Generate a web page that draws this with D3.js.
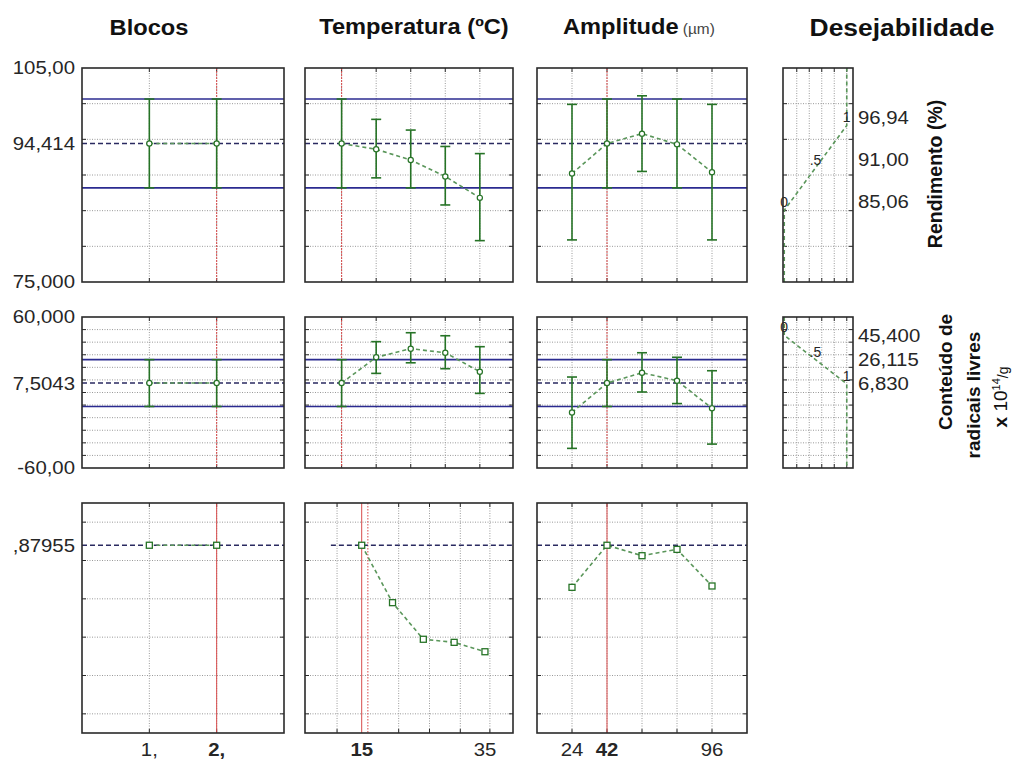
<!DOCTYPE html>
<html><head><meta charset="utf-8">
<script src="https://cdn.jsdelivr.net/npm/d3@7"></script>
<style>body{margin:0;background:#fff}svg{display:block}</style>
</head><body>
<script>
// ---------------- DATA ----------------
const blocos = [1, 2];
const temperatura = [15, 20, 25, 30, 35];
const amplitude = [24, 42, 60, 78, 96];

const rendBlocos   = [94.414, 94.414];
const rendBlocosLo = [88.2, 88.2];
const rendBlocosHi = [100.65, 100.65];
const rendTemp   = [94.414, 93.6, 92.1, 89.8, 86.8];
const rendTempLo = [88.2, 89.6, 88.2, 85.8, 80.8];
const rendTempHi = [100.65, 97.8, 96.3, 94.0, 93.0];
const rendAmp   = [90.2, 94.414, 95.8, 94.3, 90.4];
const rendAmpLo = [80.9, 88.2, 90.5, 88.2, 80.9];
const rendAmpHi = [99.9, 100.65, 101.1, 100.65, 99.9];

const radBlocos   = [7.5043, 7.5043];
const radBlocosLo = [-11.1, -11.1];
const radBlocosHi = [26.1, 26.1];
const radTemp   = [7.5043, 28.0, 34.8, 31.6, 16.5];
const radTempLo = [-11.1, 15.2, 23.6, 18.9, -0.7];
const radTempHi = [26.1, 40.4, 47.5, 45.1, 36.4];
const radAmp   = [-15.8, 7.5043, 15.7, 9.4, -12.6];
const radAmpLo = [-44.4, -11.1, 0.4, -8.8, -41.0];
const radAmpHi = [12.3, 26.1, 31.6, 28.0, 17.3];

const desBlocos = [0.87955, 0.87955];
const desTemp   = [0.87955, 0.580, 0.389, 0.373, 0.324];
const desAmp    = [0.660, 0.87955, 0.825, 0.858, 0.667];

const currentLevels = [2, 15, 42];
const currentRend = 94.414, currentRendLo = 88.2, currentRendHi = 100.65;
const currentRad = 7.5043, currentRadLo = -11.1, currentRadHi = 26.1;
const currentDes = 0.87955;

const rendDomain = [75, 105];
const radDomain = [-60, 60];
const desDomain = [-0.1, 1.1];
const rendGrid = [80, 85, 90, 95, 100];
const radGrid = [-50, -40, -30, -20, -10, 0, 10, 20, 30, 40, 50];
const desGrid = [0, 0.2, 0.4, 0.6, 0.8, 1.0];

const rendTickValues = [105, 94.414, 75];
const rendTickLabels = ["105,00", "94,414", "75,000"];
const radTickValues = [60, 7.5043, -60];
const radTickLabels = ["60,000", "7,5043", "-60,00"];
const desTickValues = [0.87955];
const desTickLabels = [",87955"];

const blocosDomain = [0, 3];
const tempDomain = [9.7, 39.8];
const tempDomainBottom = [5.8, 39.55];
const ampDomain = [6, 114];
const tempGridBottom = [11, 21, 26, 31, 35.8];
const tempOptBottom = 16;
const tempDashStartBottom = 10;

const blocosLabelValues = [1, 2];
const blocosLabels = ["1,", "2,"];
const tempLabelValues = [15, 35];
const tempLabels = ["15", "35"];
const ampLabelValues = [24, 42, 96];
const ampLabels = ["24", "42", "96"];

const desFnD = [0, 0.5, 1];
const desFnText = ["0", ".5", "1"];
const rendDesLevels = [85.06, 91.00, 96.94];
const rendDesLabels = ["85,06", "91,00", "96,94"];
const radDesLevels = [45.400, 26.115, 6.830];
const radDesLabels = ["45,400", "26,115", "6,830"];
const desXDomain = [-0.02, 1.1];
const desXGrid = [0.2, 0.4, 0.6, 0.8, 1.0];

const colTitles = ["Blocos", "Temperatura (ºC)", "Amplitude", "Desejabilidade"];

// ---------------- LAYOUT ----------------
const W = 1013, H = 761, SX = 1.1;
const colX = [[82, 284], [305, 513], [537, 747]];
const rowY = [[68, 282], [317, 468], [503, 733]];
const desX = [783, 853];

const FONT = "'Liberation Sans', Arial, Helvetica, sans-serif";
const C = {grid: "#9a9a9a", border: "#2a2a2a", blue: "#2b2b90", mean: "#2a2a60",
           red: "#d84a4a", green: "#267326", gline: "#5a965a", text: "#262626"};

const svg = d3.select("body").append("svg").attr("width", W).attr("height", H)
  .style("font-family", FONT);

function label(x, y, str, o = {}) {
  const g = svg.append("g").attr("transform", `translate(${x},${y}) scale(${o.sx || SX},1)`);
  const t = g.append("text").attr("font-size", o.size || 18.5)
    .attr("font-weight", o.weight || "normal")
    .attr("text-anchor", o.anchor || "start")
    .attr("fill", o.fill || C.text).text(str);
  if (o.dy) t.attr("dy", o.dy);
  return t;
}

const xScales = [
  d3.scaleLinear().domain(blocosDomain).range(colX[0]),
  d3.scaleLinear().domain(tempDomain).range(colX[1]),
  d3.scaleLinear().domain(ampDomain).range(colX[2])
];
const xScalesBottom = [
  xScales[0],
  d3.scaleLinear().domain(tempDomainBottom).range(colX[1]),
  xScales[2]
];
const yScales = [
  d3.scaleLinear().domain(rendDomain).range([rowY[0][1], rowY[0][0]]),
  d3.scaleLinear().domain(radDomain).range([rowY[1][1], rowY[1][0]]),
  d3.scaleLinear().domain(desDomain).range([rowY[2][1], rowY[2][0]])
];
const yGrids = [rendGrid, radGrid, desGrid];
const xVals = [blocos, temperatura, amplitude];
const xGridsTop = [blocos, temperatura, amplitude];
const xGridsBottom = [blocos, tempGridBottom, amplitude];

const means = [currentRend, currentRad, currentDes];
const bands = [[currentRendLo, currentRendHi], [currentRadLo, currentRadHi], null];
const series = [
  [[rendBlocos, rendBlocosLo, rendBlocosHi], [rendTemp, rendTempLo, rendTempHi], [rendAmp, rendAmpLo, rendAmpHi]],
  [[radBlocos, radBlocosLo, radBlocosHi], [radTemp, radTempLo, radTempHi], [radAmp, radAmpLo, radAmpHi]],
  [[desBlocos], [desTemp], [desAmp]]
];

function grid(g, xs, ys, xg, yg) {
  const [x0, x1] = xs.range(), [y1, y0] = ys.range();
  g.selectAll(null).data(yg).join("line")
    .attr("x1", x0).attr("x2", x1).attr("y1", d => ys(d)).attr("y2", d => ys(d))
    .attr("stroke", C.grid).attr("stroke-dasharray", "1,1.5");
  g.selectAll(null).data(xg).join("line")
    .attr("y1", y0).attr("y2", y1).attr("x1", d => xs(d)).attr("x2", d => xs(d))
    .attr("stroke", C.grid).attr("stroke-dasharray", "1,1.5");
  const tk = 4;
  yg.forEach(d => {
    g.append("line").attr("x1", x0).attr("x2", x0 + tk).attr("y1", ys(d)).attr("y2", ys(d)).attr("stroke", C.border);
    g.append("line").attr("x1", x1 - tk).attr("x2", x1).attr("y1", ys(d)).attr("y2", ys(d)).attr("stroke", C.border);
  });
  xg.forEach(d => {
    g.append("line").attr("y1", y0).attr("y2", y0 + tk).attr("x1", xs(d)).attr("x2", xs(d)).attr("stroke", C.border);
    g.append("line").attr("y1", y1 - tk).attr("y2", y1).attr("x1", xs(d)).attr("x2", xs(d)).attr("stroke", C.border);
  });
}
function border(g, xs, ys) {
  const [x0, x1] = xs.range(), [y1, y0] = ys.range();
  g.append("rect").attr("x", x0).attr("y", y0).attr("width", x1 - x0).attr("height", y1 - y0)
    .attr("fill", "none").attr("stroke", C.border).attr("stroke-width", 1.6);
}

for (let r = 0; r < 3; r++) {
  for (let c = 0; c < 3; c++) {
    const xs = r === 2 ? xScalesBottom[c] : xScales[c];
    const ys = yScales[r];
    const g = svg.append("g");
    const [x0, x1] = xs.range(), [yb, yt] = ys.range();
    grid(g, xs, ys, r === 2 ? xGridsBottom[c] : xGridsTop[c], yGrids[r]);
    g.append("line").attr("x1", xs(currentLevels[c])).attr("x2", xs(currentLevels[c]))
      .attr("y1", yt).attr("y2", yb).attr("stroke", C.red).attr("stroke-width", 1)
      .attr("stroke-dasharray", r === 2 ? null : "2,1");
    if (r === 2 && c === 1) {
      g.append("line").attr("x1", xs(tempOptBottom)).attr("x2", xs(tempOptBottom))
        .attr("y1", yt).attr("y2", yb).attr("stroke", C.red).attr("stroke-width", 1)
        .attr("stroke-dasharray", "1.5,1.5");
    }
    if (bands[r]) {
      bands[r].forEach(v => g.append("line").attr("x1", x0).attr("x2", x1)
        .attr("y1", ys(v)).attr("y2", ys(v)).attr("stroke", C.blue).attr("stroke-width", 1.6));
    }
    const mStart = (r === 2 && c === 1) ? xs(tempDashStartBottom) : x0;
    g.append("line").attr("x1", mStart).attr("x2", x1).attr("y1", ys(means[r])).attr("y2", ys(means[r]))
      .attr("stroke", C.mean).attr("stroke-width", 1.4).attr("stroke-dasharray", "5,3");
    const [vals, lo, hi] = series[r][c];
    const xv = xVals[c];
    const pts = xv.map((x, i) => [xs(x), ys(vals[i])]);
    g.append("path").attr("d", d3.line()(pts)).attr("fill", "none")
      .attr("stroke", C.gline).attr("stroke-width", 1.6).attr("stroke-dasharray", "4,3");
    if (lo) {
      xv.forEach((x, i) => {
        const px = xs(x);
        g.append("line").attr("x1", px).attr("x2", px).attr("y1", ys(lo[i])).attr("y2", ys(hi[i]))
          .attr("stroke", C.green).attr("stroke-width", 1.6);
        [lo[i], hi[i]].forEach(v => g.append("line").attr("x1", px - 5).attr("x2", px + 5)
          .attr("y1", ys(v)).attr("y2", ys(v)).attr("stroke", C.green).attr("stroke-width", 1.6));
      });
      g.selectAll(null).data(pts).join("circle").attr("cx", d => d[0]).attr("cy", d => d[1])
        .attr("r", 2.6).attr("fill", "#fff").attr("stroke", C.green).attr("stroke-width", 1.2);
    } else {
      g.selectAll(null).data(pts).join("rect").attr("x", d => d[0] - 3).attr("y", d => d[1] - 3)
        .attr("width", 6).attr("height", 6).attr("fill", "#fff").attr("stroke", C.green).attr("stroke-width", 1.3);
    }
    border(g, xs, ys);
  }
}

// Desirability function panels
const desXs = d3.scaleLinear().domain(desXDomain).range(desX);
const desFns = [
  {levels: rendDesLevels, labels: rendDesLabels, dy: "-0.1em"},
  {levels: radDesLevels, labels: radDesLabels, dy: "0.35em"}
];
desFns.forEach((f, r) => {
  const ys = yScales[r];
  const g = svg.append("g");
  grid(g, desXs, ys, desXGrid, yGrids[r]);
  const dom = ys.domain();
  const lowEnd = f.levels[0] < f.levels[2] ? dom[0] : dom[1];
  const highEnd = f.levels[0] < f.levels[2] ? dom[1] : dom[0];
  const pts = [[0, lowEnd]].concat(desFnD.map((d, i) => [d, f.levels[i]])).concat([[1, highEnd]]);
  g.append("path").attr("d", d3.line().x(d => desXs(d[0])).y(d => ys(d[1]))(pts))
    .attr("fill", "none").attr("stroke", C.gline).attr("stroke-width", 1.6).attr("stroke-dasharray", "4,3");
  desFnD.forEach((d, i) => {
    g.append("text").attr("x", desXs(d)).attr("y", ys(f.levels[i]) - 3).attr("text-anchor", "middle")
      .attr("font-size", 14).attr("fill", C.text).text(desFnText[i]);
  });
  border(g, desXs, ys);
  f.labels.forEach((s, i) => label(858, ys(f.levels[i]), s, {dy: f.dy}));
});

// Left tick labels
[[rendTickValues, rendTickLabels], [radTickValues, radTickLabels], [desTickValues, desTickLabels]]
  .forEach(([vals, labs], r) => {
    vals.forEach((v, i) => label(75, yScales[r](v), labs[i], {anchor: "end", dy: "0.35em"}));
  });

// Bottom x labels
const XLY = 756;
blocosLabelValues.forEach((v, i) => label(xScalesBottom[0](v), XLY, blocosLabels[i],
  {anchor: "middle", weight: v === currentLevels[0] ? "bold" : "normal"}));
tempLabelValues.forEach((v, i) => label(xScalesBottom[1](v), XLY, tempLabels[i],
  {anchor: "middle", weight: v === currentLevels[1] ? "bold" : "normal"}));
ampLabelValues.forEach((v, i) => label(xScalesBottom[2](v), XLY, ampLabels[i],
  {anchor: "middle", weight: v === currentLevels[2] ? "bold" : "normal"}));

// Column titles
label(149, 35, colTitles[0], {anchor: "middle", weight: "bold", size: 21.5, fill: "#111"});
label(414, 34, colTitles[1], {anchor: "middle", weight: "bold", size: 21.5, fill: "#111"});
const amp = label(563, 34, colTitles[2], {weight: "bold", size: 21.5, fill: "#111"});
amp.append("tspan").attr("font-weight", "normal").attr("font-size", 14).attr("fill", "#444").text(" (µm)");
label(902, 36, colTitles[3], {anchor: "middle", weight: "bold", size: 24, fill: "#111"});

// Right vertical titles
function vtext(x, y, size) {
  return svg.append("text").attr("transform", `translate(${x},${y}) rotate(-90)`)
    .attr("text-anchor", "middle").attr("dy", "0.35em").attr("font-size", size)
    .attr("font-weight", "bold").attr("fill", "#111");
}
vtext(935, 174, 19.5).text("Rendimento (%)");
vtext(945, 372, 19).text("Conteúdo de");
vtext(973, 395, 19).text("radicais livres");
const t3 = vtext(1000, 397, 19);
t3.append("tspan").text("x ");
t3.append("tspan").attr("font-weight", "normal").text("10");
t3.append("tspan").attr("font-size", 11).attr("font-weight", "normal").attr("dy", "-0.6em").text("14");
t3.append("tspan").attr("font-size", 14).attr("font-weight", "normal").attr("dy", "0.6em").text("/g");
</script>
</body></html>
